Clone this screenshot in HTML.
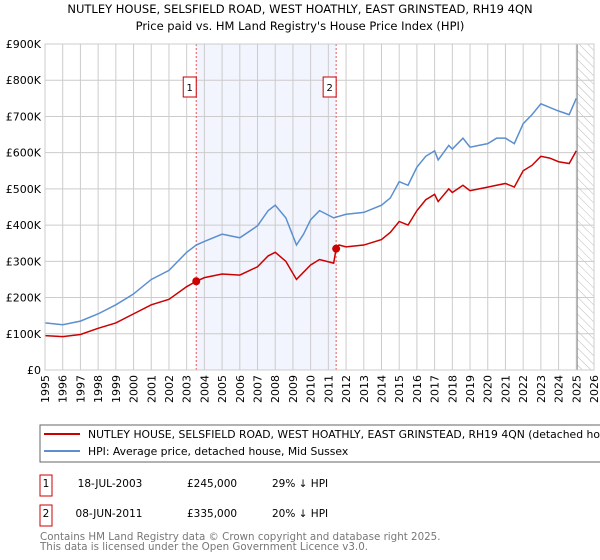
<!DOCTYPE html>
<html><head><meta charset="utf-8"><style>
body{margin:0;background:#fff;font-family:"Liberation Sans","DejaVu Sans",sans-serif;}
svg{display:block}
</style></head><body>
<svg width="600" height="560" font-family="DejaVu Sans, Liberation Sans, sans-serif">
<defs><pattern id="hatch" width="6" height="6" patternUnits="userSpaceOnUse" patternTransform="rotate(-45)"><line x1="0" y1="0" x2="0" y2="6" stroke="#bbb" stroke-width="1"/></pattern></defs>
<text x="300" y="13" text-anchor="middle" font-size="11.5">NUTLEY HOUSE, SELSFIELD ROAD, WEST HOATHLY, EAST GRINSTEAD, RH19 4QN</text>
<text x="300" y="30" text-anchor="middle" font-size="11.5">Price paid vs. HM Land Registry's House Price Index (HPI)</text>
<g id="plot"></g>
<g>
<rect x="40" y="425" width="580" height="37" fill="#fff" stroke="#666"/>
<line x1="44" y1="434" x2="80" y2="434" stroke="#cc0000" stroke-width="2"/>
<text x="88" y="438" font-size="10.8">NUTLEY HOUSE, SELSFIELD ROAD, WEST HOATHLY, EAST GRINSTEAD, RH19 4QN (detached house)</text>
<line x1="44" y1="451" x2="80" y2="451" stroke="#5b8fd0" stroke-width="2"/>
<text x="88" y="455" font-size="10.8">HPI: Average price, detached house, Mid Sussex</text>
</g>
<g font-size="10.5">
<rect x="40" y="475" width="12" height="21" fill="none" stroke="#cc0000"/><text x="46" y="487" text-anchor="middle">1</text>
<text x="110" y="487" text-anchor="middle">18-JUL-2003</text><text x="187" y="487">£245,000</text><text x="272" y="487">29% ↓ HPI</text>
<rect x="40" y="505" width="12" height="21" fill="none" stroke="#cc0000"/><text x="46" y="517" text-anchor="middle">2</text>
<text x="109" y="517" text-anchor="middle">08-JUN-2011</text><text x="187" y="517">£335,000</text><text x="272" y="517">20% ↓ HPI</text>
</g>
<text x="40" y="540" font-size="10.3" fill="#777">Contains HM Land Registry data © Crown copyright and database right 2025.</text>
<text x="40" y="550" font-size="10.3" fill="#777">This data is licensed under the Open Government Licence v3.0.</text>
</svg>
<script>
const years=[1995,1996,1997,1998,1999,2000,2001,2002,2003,2004,2005,2006,2007,2008,2009,2010,2011,2012,2013,2014,2015,2016,2017,2018,2019,2020,2021,2022,2023,2024,2025,2026];
const yTicks=[0,100,200,300,400,500,600,700,800,900];
const yTickLabels=["£0","£100K","£200K","£300K","£400K","£500K","£600K","£700K","£800K","£900K"];
const hpiT=[1995,1996,1997,1998,1999,2000,2001,2002,2003,2003.54,2004,2005,2006,2007,2007.6,2008,2008.6,2009.2,2009.6,2010,2010.5,2011.3,2012,2013,2014,2014.5,2015,2015.5,2016,2016.5,2017,2017.2,2017.8,2018,2018.6,2019,2019.5,2020,2020.5,2021,2021.5,2022,2022.5,2023,2023.5,2024,2024.6,2025];
const hpiV=[130,125,135,155,180,210,250,275,325,345,355,375,365,398,440,455,420,345,375,415,440,420,430,435,455,475,520,510,560,590,605,580,620,610,640,615,620,625,640,640,625,680,705,735,725,715,705,750];
const redT=[1995,1996,1997,1998,1999,2000,2001,2002,2003,2003.54,2004,2005,2006,2007,2007.6,2008,2008.6,2009.2,2009.6,2010,2010.5,2011.3,2011.44,2011.6,2012,2013,2014,2014.5,2015,2015.5,2016,2016.5,2017,2017.2,2017.8,2018,2018.6,2019,2019.5,2020,2020.5,2021,2021.5,2022,2022.5,2023,2023.5,2024,2024.6,2025];
const redV=[95,92,98,115,130,155,180,195,230,245,255,265,262,285,315,325,300,250,270,290,305,295,335,345,340,345,360,380,410,400,440,470,485,465,500,490,510,495,500,505,510,515,505,550,565,590,585,575,570,605];
const saleT=[2003.54,2011.44];
const saleV=[245,335];
const saleLabels=["1","2"];
const NS="http://www.w3.org/2000/svg";
const X0=45,X1=594,Y0=370,Y1=44;
const xs=t=>X0+(t-1995)/(2026-1995)*(X1-X0);
const ys=v=>Y0-v/900*(Y0-Y1);
const g=document.getElementById('plot');
function mk(tag,a){const e=document.createElementNS(NS,tag);for(const k in a)e.setAttribute(k,a[k]);g.appendChild(e);return e;}
let r=mk('rect',{x:xs(saleT[0]),y:Y1,width:xs(saleT[1])-xs(saleT[0]),height:Y0-Y1,fill:'#f2f5fd'});


let h=mk('rect',{x:xs(2025.05),y:Y1,width:X1-xs(2025.05),height:Y0-Y1,fill:'url(#hatch)'});


years.forEach(y=>{const l=mk('line',{x1:xs(y),x2:xs(y),y1:Y1,y2:Y0,stroke:'#ccc'});


const t=mk('text',{x:0,y:0,'font-size':11,'text-anchor':'end',transform:`translate(${xs(y)+4},${Y0+5}) rotate(-90)`});t.textContent=y;

});
yTicks.forEach((v,i)=>{const l=mk('line',{x1:X0,x2:X1,y1:ys(v),y2:ys(v),stroke:'#ccc'});


const t=mk('text',{x:X0-4,y:ys(v)+4,'font-size':11,'text-anchor':'end'});t.textContent=yTickLabels[i];

});
let vl=mk('line',{x1:xs(2025.05),x2:xs(2025.05),y1:Y1,y2:Y0,stroke:'#888'});


saleT.forEach((t,i)=>{const l=mk('line',{x1:xs(t),x2:xs(t),y1:Y1,y2:Y0,stroke:'#e55','stroke-dasharray':'2,2'});


const b=mk('rect',{x:xs(t)-13,y:77,width:13,height:20,fill:'#fff',stroke:'#cc0000'});


const tx=mk('text',{x:xs(t)-6.5,y:91,'font-size':10,'text-anchor':'middle'});tx.textContent=saleLabels[i];

});
function line(T,V,c,n){const p=mk('polyline',{points:T.map((t,i)=>xs(t)+','+ys(V[i])).join(' '),fill:'none',stroke:c,'stroke-width':1.5});

}
line(hpiT,hpiV,'#5b8fd0','hpi-line');
line(redT,redV,'#cc0000','price-paid-line');
saleT.forEach((t,i)=>{const c=mk('circle',{cx:xs(t),cy:ys(saleV[i]),r:4,fill:'#cc0000'});

});
let ax=mk('rect',{x:X0,y:Y1,width:X1-X0,height:Y0-Y1,fill:'none',stroke:'#ccc'});


</script>
</body></html>
